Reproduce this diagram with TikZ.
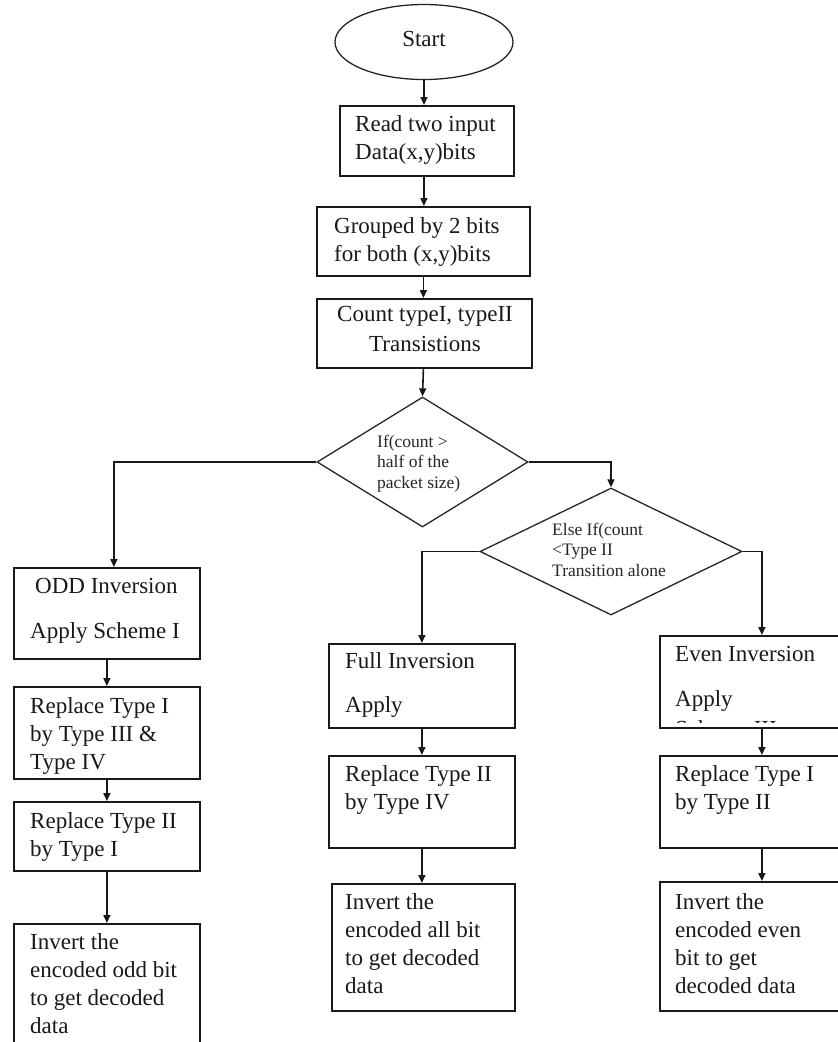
\documentclass[tikz,border=0pt]{standalone}
\usepackage{fontspec}
\setmainfont{Liberation Serif}
\usetikzlibrary{shapes.geometric,arrows.meta,calc}
\newcommand\tlines[1]{\begin{tabular}[t]{@{}l@{}}#1\end{tabular}}
\newcommand\tclines[1]{\begin{tabular}[t]{@{}c@{}}#1\end{tabular}}
\begin{document}
\begin{tikzpicture}[x=1pt,y=-1pt,
  box/.style={draw=black!90, rectangle, inner sep=0, line width=1.8pt, anchor=north west},
  dia/.style={draw=black!85, diamond, inner sep=0, line width=1.3pt},
  txt/.style={inner sep=0, text=black!90, font=\fontsize{23}{28}\selectfont, anchor=base west},
  dtxt/.style={inner sep=0, text=black!85, font=\fontsize{17.5}{20.5}\selectfont, anchor=base west},
  arr/.style={-{Triangle[length=8pt,width=7pt]}, line width=1.6pt, draw=black!90}]
\useasboundingbox (0,0) rectangle (838,1042);
\clip (0,0) rectangle (838,1042);
\fill[white] (0,0) rectangle (838,1042);

% start
\node[draw=black!85, ellipse, line width=1.3pt, minimum width=178, minimum height=75, inner sep=0] (start) at (424,42) {};
\node[txt, anchor=base] (startt) at (424,46) {Start};

% main column
\node[box, minimum width=174, minimum height=70] (b1) at (339,105) {};
\node[txt] (b1t) at (355,131) {\tlines{Read two input\\Data(x,y)bits}};
\node[box, minimum width=213, minimum height=69] (b2) at (316,206) {};
\node[txt] (b2t) at (334,233) {\tlines{Grouped by 2 bits\\for both (x,y)bits}};
\node[box, minimum width=215, minimum height=69] (b3) at (316,298) {};
\node[txt, anchor=base] (b3t) at (425,321) {\tclines{Count typeI, typeII\\[2pt]Transistions}};

% decisions
\node[dia, minimum width=211, minimum height=130] (d1) at (422.5,462) {};
\node[dtxt] (d1t) at (377,447) {\tlines{If(count >\\half of the\\packet size)}};
\node[dia, minimum width=262, minimum height=127] (d2) at (611,551.5) {};
\node[dtxt] (d2t) at (552,535) {\tlines{Else If(count\\<Type II\\Transition alone}};

% left column
\node[box, minimum width=186, minimum height=91] (odd) at (13,567) {};
\node[txt] (oddt1) at (35,593) {ODD Inversion};
\node[txt] (oddt2) at (30,638) {Apply Scheme I};
\node[box, minimum width=186, minimum height=92] (rep1) at (13,686) {};
\node[txt] (rep1t) at (30,713) {\tlines{Replace Type I\\by Type III \&\\Type IV}};
\node[box, minimum width=186, minimum height=69] (rep2) at (13,801) {};
\node[txt] (rep2t) at (30,828) {\tlines{Replace Type II\\by Type I}};
\node[box, minimum width=186, minimum height=140] (invl) at (13,923) {};
\node[txt] (invlt) at (30,949) {\tlines{Invert the\\encoded odd bit\\to get decoded\\data}};

% middle column
\node[box, minimum width=186, minimum height=84] (full) at (328,643) {};
\node[txt] (fullt1) at (345,668) {Full Inversion};
\node[txt] (fullt2) at (345,712) {Apply};
\node[box, minimum width=186, minimum height=92] (rep3) at (328,755) {};
\node[txt] (rep3t) at (345,781) {\tlines{Replace Type II\\by Type IV}};
\node[box, minimum width=183, minimum height=127] (invm) at (331,883) {};
\node[txt] (invmt) at (345,909) {\tlines{Invert the\\encoded all bit\\to get decoded\\data}};

% right column
\node[box, minimum width=204, minimum height=92] (even) at (659,635) {};
\node[txt] (event1) at (675,661) {Even Inversion};
\node[txt] (event2) at (675,706) {Apply};
\begin{scope}
  \clip (660,690) rectangle (860,722.5);
  \node[txt] (event3) at (675,736) {Scheme III};
\end{scope}
\node[box, minimum width=204, minimum height=92] (rep4) at (659,755) {};
\node[txt] (rep4t) at (675,781) {\tlines{Replace Type I\\by Type II}};
\node[box, minimum width=204, minimum height=129] (inve) at (659,881) {};
\node[txt] (invet) at (675,909) {\tlines{Invert the\\encoded even\\bit to get\\decoded data}};

% connectors
\draw[arr] (start.south) -- (start.south |- b1.north);
\draw[arr] ([xshift=-3pt]b1.south) -- ([xshift=-3pt]b1.south |- b2.north);
\draw[arr] (b2.south) -- (b2.south |- b3.north);
\draw[arr] ([xshift=-1pt]b3.south) -- (d1.north);
\draw[arr] (d1.west) -| ([xshift=7pt]odd.north);
\draw[arr] (d1.east) -| (d2.north);
\draw[arr] (d2.west) -| (full.north);
\draw[arr] (d2.east) -| (even.north);
\draw[arr] (odd.south) -- (rep1.north);
\draw[arr] (rep1.south) -- (rep2.north);
\draw[arr] (rep2.south) -- (invl.north);
\draw[arr] (full.south) -- (rep3.north);
\draw[arr] (rep3.south) -- (rep3.south |- invm.north);
\draw[arr] (even.south) -- (rep4.north);
\draw[arr] (rep4.south) -- (inve.north);
\end{tikzpicture}
\end{document}
